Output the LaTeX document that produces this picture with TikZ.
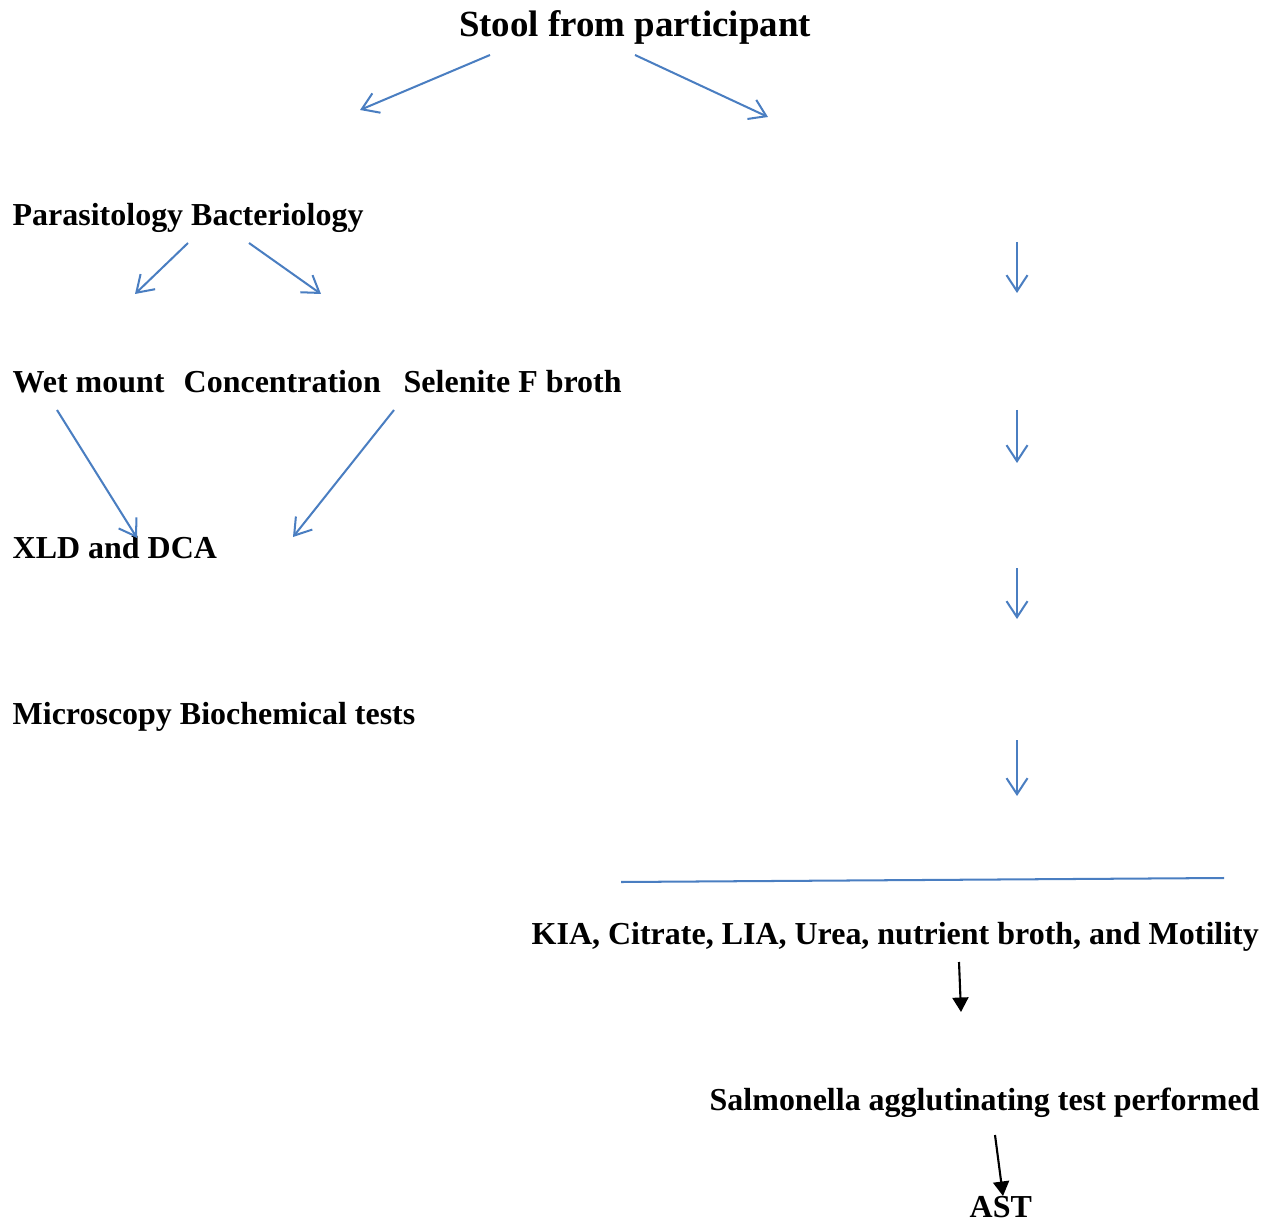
\documentclass[tikz,border=0pt]{standalone}
\usepackage{fontspec}
\setmainfont{Liberation Serif}
\usetikzlibrary{arrows.meta, positioning}
\definecolor{flowblue}{RGB}{74,126,193}

\begin{document}
\begin{tikzpicture}[
    x=0.02cm,
    y=-0.02cm,
    thick
  ]

  % Styles
  \tikzstyle{stage}=[anchor=base west, inner sep=0pt, font=\bfseries\fontsize{18.2}{21}\selectfont]
  \tikzstyle{title}=[anchor=base, inner sep=0pt, font=\bfseries\fontsize{21}{24}\selectfont]
  \tikzstyle{bluearrow}=[draw=flowblue, line width=1.15pt, -{Straight Barb[length=3.2mm,width=4.2mm]}]
  \tikzstyle{blueline}=[draw=flowblue, line width=1.15pt]
  \tikzstyle{blackarrow}=[draw=black, line width=1.2pt, -{Triangle[length=2.9mm,width=3.2mm]}]

  % Page frame
  \useasboundingbox (0,0) rectangle (1273,1222);

  % Texts
  \node[title] (stool) at (635,37) {Stool from participant};
  \node[stage] (labs) at (12,226) {Parasitology Bacteriology};
  \node[stage] (wet) at (12,393) {Wet mount};
  \node[stage] (conc) at (183,393) {Concentration};
  \node[stage] (selenite) at (403,393) {Selenite F broth};
  \node[stage] (xld) at (12,558) {XLD and DCA};
  \node[stage] (micro) at (12,724) {Microscopy Biochemical tests};
  \node[stage] (kia) at (531,944) {KIA, Citrate, LIA, Urea, nutrient broth, and Motility};
  \node[stage] (salm) at (709,1110) {Salmonella agglutinating test performed};
  \node[stage] (ast) at (969,1217) {AST};

  % Arrow ends
  \coordinate (s1) at (490,55);  \coordinate (e1) at (360,110);
  \coordinate (s2) at (635,55);  \coordinate (e2) at (768,117);
  \coordinate (s3) at (188,243); \coordinate (e3) at (135,294);
  \coordinate (s4) at (249,243); \coordinate (e4) at (321,294);
  \coordinate (s5) at (57,410);  \coordinate (e5) at (137,538);
  \coordinate (s6) at (394,410); \coordinate (e6) at (293,537);
  \coordinate (r1) at (1017,242); \coordinate (r2) at (1017,293);
  \coordinate (r3) at (1017,410); \coordinate (r4) at (1017,463);
  \coordinate (r5) at (1017,568); \coordinate (r6) at (1017,619);
  \coordinate (r7) at (1017,740); \coordinate (r8) at (1017,796);
  \coordinate (bar1) at (621,882); \coordinate (bar2) at (1224,878);
  \coordinate (k1) at (959,962);  \coordinate (k2) at (961,1012);
  \coordinate (a1) at (995,1135); \coordinate (a2) at (1003,1196);

  % Blue arrows
  \draw[bluearrow] (s1) -- (e1);
  \draw[bluearrow] (s2) -- (e2);
  \draw[bluearrow] (s3) -- (e3);
  \draw[bluearrow] (s4) -- (e4);
  \draw[bluearrow] (s5) -- (e5);
  \draw[bluearrow] (s6) -- (e6);
  \draw[bluearrow] (r1) -- (r2);
  \draw[bluearrow] (r3) -- (r4);
  \draw[bluearrow] (r5) -- (r6);
  \draw[bluearrow] (r7) -- (r8);
  \draw[blueline] (bar1) -- (bar2);

  % Black arrows
  \draw[blackarrow] (k1) -- (k2);
  \draw[blackarrow] (a1) -- (a2);

\end{tikzpicture}
\end{document}
